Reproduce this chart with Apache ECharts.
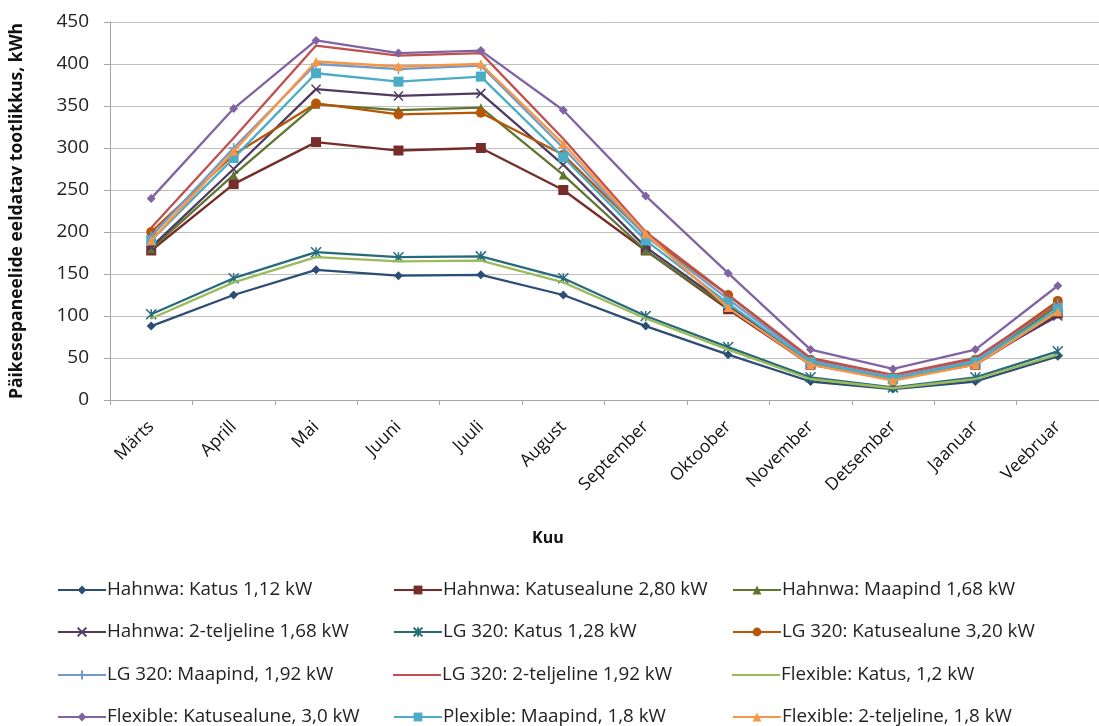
<!DOCTYPE html>
<html>
<head>
<meta charset="utf-8">
<script src="https://cdn.jsdelivr.net/npm/echarts@6/dist/echarts.min.js"></script>
<style>
html,body{margin:0;padding:0;background:#fff;}
#c{width:1099px;height:726px;}
</style>
</head>
<body>
<div id="c"></div>
<script>
const months = ['Märts','Aprill','Mai','Juuni','Juuli','August','September','Oktoober','November','Detsember','Jaanuar','Veebruar'];
const yTicks = [0,50,100,150,200,250,300,350,400,450];

const seriesNames = [
  'Hahnwa: Katus 1,12 kW',
  'Hahnwa: Katusealune 2,80 kW',
  'Hahnwa: Maapind 1,68 kW',
  'Hahnwa: 2-teljeline 1,68 kW',
  'LG 320: Katus 1,28 kW',
  'LG 320: Katusealune 3,20 kW',
  'LG 320: Maapind, 1,92 kW',
  'LG 320: 2-teljeline 1,92 kW',
  'Flexible: Katus, 1,2 kW',
  'Flexible: Katusealune, 3,0 kW',
  'Plexible: Maapind, 1,8 kW',
  'Flexible: 2-teljeline, 1,8 kW'
];

const hahnwaKatus        = [88,125,155,148,149,125,88,54,22,13,22,52];
const hahnwaKatusealune  = [178,257,307,297,300,250,178,108,42,25,42,103];
const hahnwaMaapind      = [180,268,352,345,348,268,178,110,45,25,45,112];
const hahnwa2teljeline   = [182,275,370,362,365,280,182,112,45,26,45,100];
const lgKatus            = [102,145,176,170,171,145,100,63,27,15,27,58];
const lgKatusealune      = [200,292,353,340,342,292,196,125,48,27,48,118];
const lgMaapind          = [195,300,400,394,398,300,195,120,47,27,47,115];
const lg2teljeline       = [205,312,422,410,413,311,200,125,50,30,50,115];
const flexKatus          = [97,140,170,165,166,140,97,60,25,14,25,54];
const flexKatusealune    = [240,347,428,413,416,345,243,151,60,37,60,136];
const plexMaapind        = [190,288,389,379,385,289,190,115,45,25,45,108];
const flex2teljeline     = [190,296,403,397,400,305,198,110,42,23,42,105];

const seriesData = [hahnwaKatus,hahnwaKatusealune,hahnwaMaapind,hahnwa2teljeline,lgKatus,lgKatusealune,lgMaapind,lg2teljeline,flexKatus,flexKatusealune,plexMaapind,flex2teljeline];

const colors = ['#2C4D75','#772C2A','#5F7530','#4D3B62','#276A7C','#B65708','#729ACA','#C0504D','#9BBB59','#8064A2','#4BACC6','#F79646'];
const symbols = ['diamond','rect','triangle','path://M0,0L10,10M10,0L0,10','path://M0,0L10,10M10,0L0,10M5,0L5,10','circle','path://M5,0L5,10M0,5L10,5','none','none','diamond','rect','triangle'];
const symSizes = [9,10,9,9,10,10,10,0,0,9,10,9];

const FONT = '"Open Sans", "Noto Sans", sans-serif';

const series = seriesNames.map((n,i)=>({
  name:n,
  type:'line',
  data:seriesData[i],
  symbol:symbols[i],
  symbolSize:symSizes[i],
  showSymbol: symbols[i] !== 'none',
  lineStyle:{width:2.3,color:colors[i]},
  itemStyle:{color:colors[i],borderColor:colors[i],borderWidth: symbols[i].startsWith('path')?1.5:0},
  emphasis:{disabled:true},
  animation:false,
  z: 2+i
}));

// legend: 3 columns x 4 rows, items in row-major order
const colLeft = [57,393,732];
const rowTop = [590,632,675,717];
const plainIcon = 'path://M0,0M0,4.4L48,4.4L48,6.6L0,6.6ZM48,11';
const legends = seriesNames.map((n,i)=>{
  const plain = symbols[i] === 'none';
  return {
    data:[plain ? {name:n, icon:plainIcon} : n],
    left: colLeft[i%3],
    top: rowTop[Math.floor(i/3)] - 10,
    itemWidth:48,
    itemHeight:11,
    padding:0,
    selectedMode:false,
    textStyle:{fontFamily:FONT,fontSize:18.8,color:'#222',padding:[0,0,0,-4],lineHeight:20}
  };
});

const option = {
  backgroundColor:'#fff',
  color:colors,
  animation:false,
  grid:{left:103,right:-4,top:22,bottom:326,containLabel:false},
  legend:legends,
  xAxis:{
    type:'category',
    data:months,
    boundaryGap:true,
    axisLine:{lineStyle:{color:'#A6A6A6',width:1}},
    axisTick:{show:true,length:5,lineStyle:{color:'#A6A6A6'},alignWithLabel:false},
    axisLabel:{rotate:45,fontFamily:FONT,fontSize:17.5,color:'#111',margin:24,interval:0}
  },
  yAxis:{
    type:'value',
    min:0,max:450,interval:50,
    name:'Päikesepaneelide eeldatav tootlikkus, kWh',
    nameLocation:'middle',
    nameGap:84,
    nameTextStyle:{fontFamily:FONT,fontWeight:'bold',fontSize:17.5,color:'#111'},
    axisLine:{show:true,lineStyle:{color:'#A6A6A6'}},
    axisTick:{show:true,length:6,lineStyle:{color:'#A6A6A6'}},
    splitLine:{lineStyle:{color:'#BFBFBF',width:1}},
    axisLabel:{fontFamily:FONT,fontSize:19,color:'#222',margin:21,
      formatter:(v)=> yTicks.includes(v)? String(v):''}
  },
  graphic:[{type:'text',left:532,top:530,style:{text:'Kuu',font:'bold 16px '+FONT,fill:'#111'}}],
  series:series
};

const chart = echarts.init(document.getElementById('c'),null,{renderer:'canvas'});
chart.setOption(option);
</script>
</body>
</html>
